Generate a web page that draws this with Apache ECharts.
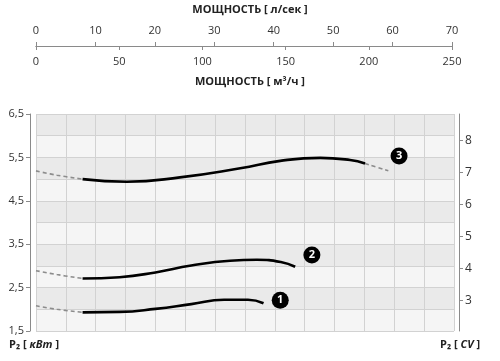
<!DOCTYPE html>
<html>
<head>
<meta charset="utf-8">
<script src="https://cdn.jsdelivr.net/npm/echarts@6/dist/echarts.min.js"></script>
<style>html,body{margin:0;padding:0;background:#fff}#c{width:500px;height:361px}</style>
</head>
<body>
<div id="c"></div>
<script>
// Flow axes (top)
var flowLsTicks = [0, 10, 20, 30, 40, 50, 60, 70];
var flowM3Ticks = [0, 50, 100, 150, 200, 250];
// Power tick labels
var kwTicks = [1.5, 2.5, 3.5, 4.5, 5.5, 6.5];
var cvTicks = [3, 4, 5, 6, 7, 8];
var KW_PER_CV = 0.7355;

// Curves: [flow l/s, P2 kW]
var curve1Dash = [[0, 2.08], [3.5, 2.0], [7.8, 1.93]];
var curve1 = [[7.8, 1.93], [14, 1.94], [20, 2.01], [26, 2.12], [31.5, 2.22], [35.5, 2.22], [38.1, 2.14]];
var curve2Dash = [[0, 2.89], [3.5, 2.80], [7.8, 2.71]];
var curve2 = [[7.8, 2.71], [14, 2.74], [20, 2.85], [26, 3.01], [32.5, 3.12], [37, 3.14], [41, 3.09], [43.4, 2.98]];
var curve3DashL = [[0, 5.19], [3.5, 5.09], [7.8, 5.0]];
var curve3 = [[7.8, 5.0], [15.2, 4.94], [24.1, 5.04], [34.2, 5.25], [40.9, 5.42], [47.6, 5.49], [52.6, 5.44], [55.1, 5.36]];
var curve3DashR = [[55.1, 5.36], [59.0, 5.19]];
var badges = [[40.9, 2.21, '1'], [46.2, 3.25, '2'], [60.8, 5.53, '3']];

var FONT = 'Open Sans';
var axisColor = '#8a8a8a';
var textColor = '#333';

function solid(d) {
  return { type: 'line', xAxisIndex: 2, yAxisIndex: 1, data: d, smooth: 0.5, symbol: 'none',
    lineStyle: { color: '#000', width: 2.6 }, z: 5 };
}
function dashed(d) {
  return { type: 'line', xAxisIndex: 2, yAxisIndex: 1, data: d, smooth: 0.4, symbol: 'none',
    lineStyle: { color: '#8c8c8c', width: 1.6, type: [4, 3] }, z: 4 };
}

var chart = echarts.init(document.getElementById('c'), null, { renderer: 'canvas' });
chart.setOption({
  animation: false,
  backgroundColor: '#fff',
  textStyle: { fontFamily: FONT },
  grid: [
    { left: 36, right: 48, top: 46, height: 0 },
    { left: 36, right: 46, top: 114, bottom: 30 }
  ],
  xAxis: [
    { gridIndex: 0, type: 'value', position: 'top', min: 0, max: 70, interval: 10,
      axisLine: { show: true, lineStyle: { color: axisColor } },
      axisTick: { show: true, length: 4, lineStyle: { color: axisColor } },
      axisLabel: { margin: 10, fontSize: 11, color: textColor, fontFamily: FONT },
      splitLine: { show: false } },
    { gridIndex: 0, type: 'value', position: 'bottom', min: 0, max: 250, interval: 50,
      axisLine: { show: true, lineStyle: { color: axisColor } },
      axisTick: { show: true, length: 4, lineStyle: { color: axisColor } },
      axisLabel: { margin: 10, fontSize: 11, color: textColor, fontFamily: FONT },
      splitLine: { show: false } },
    { gridIndex: 1, type: 'value', min: 0, max: 70, interval: 5,
      axisLine: { show: false }, axisTick: { show: false }, axisLabel: { show: false },
      splitLine: { show: true, lineStyle: { color: '#d2d2d2', width: 1 } } }
  ],
  yAxis: [
    { gridIndex: 0, type: 'value', show: false },
    { gridIndex: 1, type: 'value', min: 1.5, max: 6.5, interval: 0.5,
      axisLine: { show: false }, axisTick: { show: false }, axisLabel: { show: false },
      splitLine: { show: true, lineStyle: { color: '#d2d2d2', width: 1 } },
      splitArea: { show: true, areaStyle: { color: ['#f5f5f5', '#eaeaea'] } } },
    { gridIndex: 1, type: 'value', position: 'left', offset: 6, min: 1.5, max: 6.5,
      axisLine: { show: true, lineStyle: { color: axisColor } },
      axisTick: { show: true, length: 4, customValues: kwTicks, lineStyle: { color: axisColor } },
      axisLabel: { customValues: kwTicks, margin: 6, fontSize: 11, color: textColor, fontFamily: FONT,
        formatter: function (v) { return String(v).replace('.', ','); } },
      splitLine: { show: false } },
    { gridIndex: 1, type: 'value', position: 'right', offset: 5,
      min: 1.5 / KW_PER_CV, max: 6.5 / KW_PER_CV,
      axisLine: { show: true, lineStyle: { color: axisColor } },
      axisTick: { show: true, length: 4, customValues: cvTicks, lineStyle: { color: axisColor } },
      axisLabel: { customValues: cvTicks, margin: 6, fontSize: 12, color: textColor, fontFamily: FONT },
      splitLine: { show: false } }
  ],
  series: [
    dashed(curve1Dash), solid(curve1),
    dashed(curve2Dash), solid(curve2),
    dashed(curve3DashL), solid(curve3), dashed(curve3DashR),
    { type: 'scatter', xAxisIndex: 2, yAxisIndex: 1, symbolSize: 17, z: 6,
      itemStyle: { color: '#000', opacity: 1 },
      data: badges.map(function (b) { return { value: [b[0], b[1]], name: b[2] }; }),
      label: { show: true, position: 'inside', formatter: function (p) { return p.name; },
        color: '#fff', fontWeight: 'bold', fontSize: 11, fontFamily: FONT } }
  ],
  graphic: [
    { type: 'text', left: 'center', top: 4, style: { text: 'МОЩНОСТЬ [ л/сек ]', font: 'bold 11px "Open Sans"', fill: '#222' } },
    { type: 'text', left: 'center', top: 76, style: { text: 'МОЩНОСТЬ [ м³/ч ]', font: 'bold 11px "Open Sans"', fill: '#222' } },
    { type: 'text', left: 9, top: 339, style: { text: '{b|P₂ [ }{i|кВт}{b| ]}', rich: {
        b: { fontWeight: 'bold', fontSize: 11, fontFamily: FONT, fill: '#222' },
        i: { fontWeight: 'bold', fontStyle: 'italic', fontSize: 11, fontFamily: FONT, fill: '#222' } } } },
    { type: 'text', left: 440, top: 339, style: { text: '{b|P₂ [ }{i|CV}{b| ]}', rich: {
        b: { fontWeight: 'bold', fontSize: 11, fontFamily: FONT, fill: '#222' },
        i: { fontWeight: 'bold', fontStyle: 'italic', fontSize: 11, fontFamily: FONT, fill: '#222' } } } }
  ]
});
</script>
</body>
</html>
